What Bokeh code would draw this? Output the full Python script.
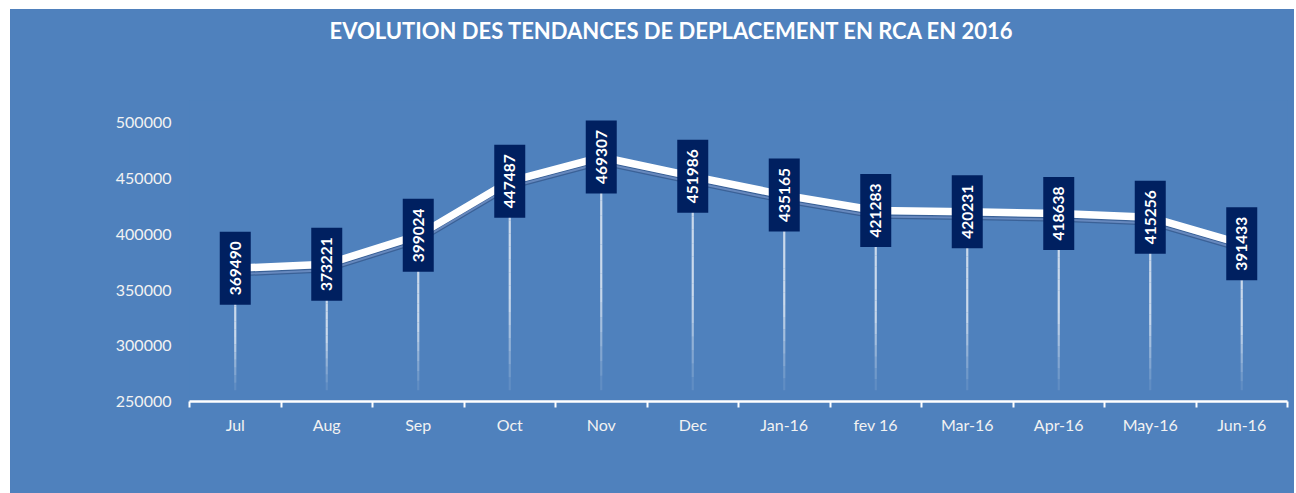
import math
from bokeh.plotting import figure
from bokeh.models import FixedTicker, Range1d, Title, LinearAxis, ColumnDataSource, NumeralTickFormatter
from bokeh.embed import file_html
from bokeh.resources import INLINE

# ---- data ----
months = ["Jul", "Aug", "Sep", "Oct", "Nov", "Dec", "Jan-16", "fev 16",
          "Mar-16", "Apr-16", "May-16", "Jun-16"]
values = [369490, 373221, 399024, 447487, 469307, 451986, 435165, 421283,
          420231, 418638, 415256, 391433]
y_ticks = [250000, 300000, 350000, 400000, 450000, 500000]
title_text = "EVOLUTION DES TENDANCES DE DEPLACEMENT EN RCA EN 2016"

# ---- styling ----
BG = "#4f81bd"
NAVY = "#002060"
TXT = "#f2f2f2"
FONT = "Lato"

Y0, Y1 = 250000, 520000
FRAME_W, FRAME_H = 1098, 301

xs = [i + 0.5 for i in range(len(months))]

p = figure(frame_width=FRAME_W, frame_height=FRAME_H,
           x_range=Range1d(0, len(months)), y_range=Range1d(Y0, Y1),
           output_backend="svg", toolbar_location=None,
           min_border_left=179, min_border_right=7,
           min_border_top=91, min_border_bottom=92,
           background_fill_color=BG, border_fill_color=BG,
           outline_line_color=None, x_axis_location=None, y_axis_location=None)
p.margin = (9, 0, 0, 10)
p.styles = {"background-color": BG}
p.grid.visible = False

# background-coloured spacer panel next to the frame, then the real title
p.add_layout(Title(text=".", text_font_size="2px", text_color=BG, standoff=54), "above")
p.add_layout(Title(text=title_text, align="left", offset=140, standoff=0,
                   text_font=FONT, text_font_size="22px", text_font_style="bold",
                   text_color="white"), "above")

# x axis: labels at slot centres, ticks at slot boundaries
xax = LinearAxis(ticker=FixedTicker(ticks=xs, minor_ticks=list(range(len(months) + 1))),
                 major_label_overrides={x: m for x, m in zip(xs, months)})
xax.axis_line_color = "white"
xax.axis_line_width = 2.5
xax.major_tick_line_color = None
xax.major_tick_out = 0
xax.major_tick_in = 0
xax.minor_tick_line_color = "white"
xax.minor_tick_line_width = 2
xax.minor_tick_out = 6
xax.minor_tick_in = 0
xax.major_label_standoff = 7
xax.major_label_text_font = FONT
xax.major_label_text_font_size = "16px"
xax.major_label_text_color = TXT
p.add_layout(xax, "below")

yax = LinearAxis(ticker=FixedTicker(ticks=y_ticks),
                 formatter=NumeralTickFormatter(format="0"))
yax.axis_line_color = None
yax.major_tick_line_color = None
yax.minor_tick_line_color = None
yax.major_tick_out = 0
yax.major_tick_in = 0
yax.major_label_standoff = 18
yax.major_label_text_font = FONT
yax.major_label_text_font_size = "16px"
yax.major_label_text_color = TXT
p.add_layout(yax, "left")

# drop lines with fading gradient
N = 16
bottom = Y0 + 10000
for k in range(N):
    f0, f1 = k / N, (k + 1) / N
    p.segment(x0=xs, x1=xs,
              y0=[bottom + (v - bottom) * f0 for v in values],
              y1=[bottom + (v - bottom) * f1 for v in values],
              line_color="white", line_width=2.2,
              line_alpha=min(1.0, (k + 1) / N * 2.2) * 0.7)

# shadow line on a shifted range (a few pixels lower)
shift = 6 * (Y1 - Y0) / FRAME_H
p.extra_y_ranges = {"shadow": Range1d(Y0 + shift, Y1 + shift)}
p.line(xs, values, y_range_name="shadow", line_color="#34598d",
       line_width=4.5, line_alpha=0.8, line_join="round")
p.line(xs, values, y_range_name="shadow", line_color="#6b8dc2",
       line_width=2, line_alpha=0.9, line_join="round")

# main white line
p.line(xs, values, line_color="white", line_width=7.5, line_join="round",
       line_cap="round")

# data label boxes
src = ColumnDataSource(dict(x=xs, y=values, t=[str(v) for v in values]))
p.rect(x="x", y="y", width=31, height=73, width_units="screen",
       height_units="screen", fill_color=NAVY, line_color=None, source=src)
p.text(x="x", y="y", text="t", angle=math.pi / 2, text_align="center",
       text_baseline="middle", text_color="white", text_font_size="15.5px",
       text_font={"value": FONT}, text_font_style="bold", source=src)

open("out.html", "w").write(file_html(p, INLINE))
